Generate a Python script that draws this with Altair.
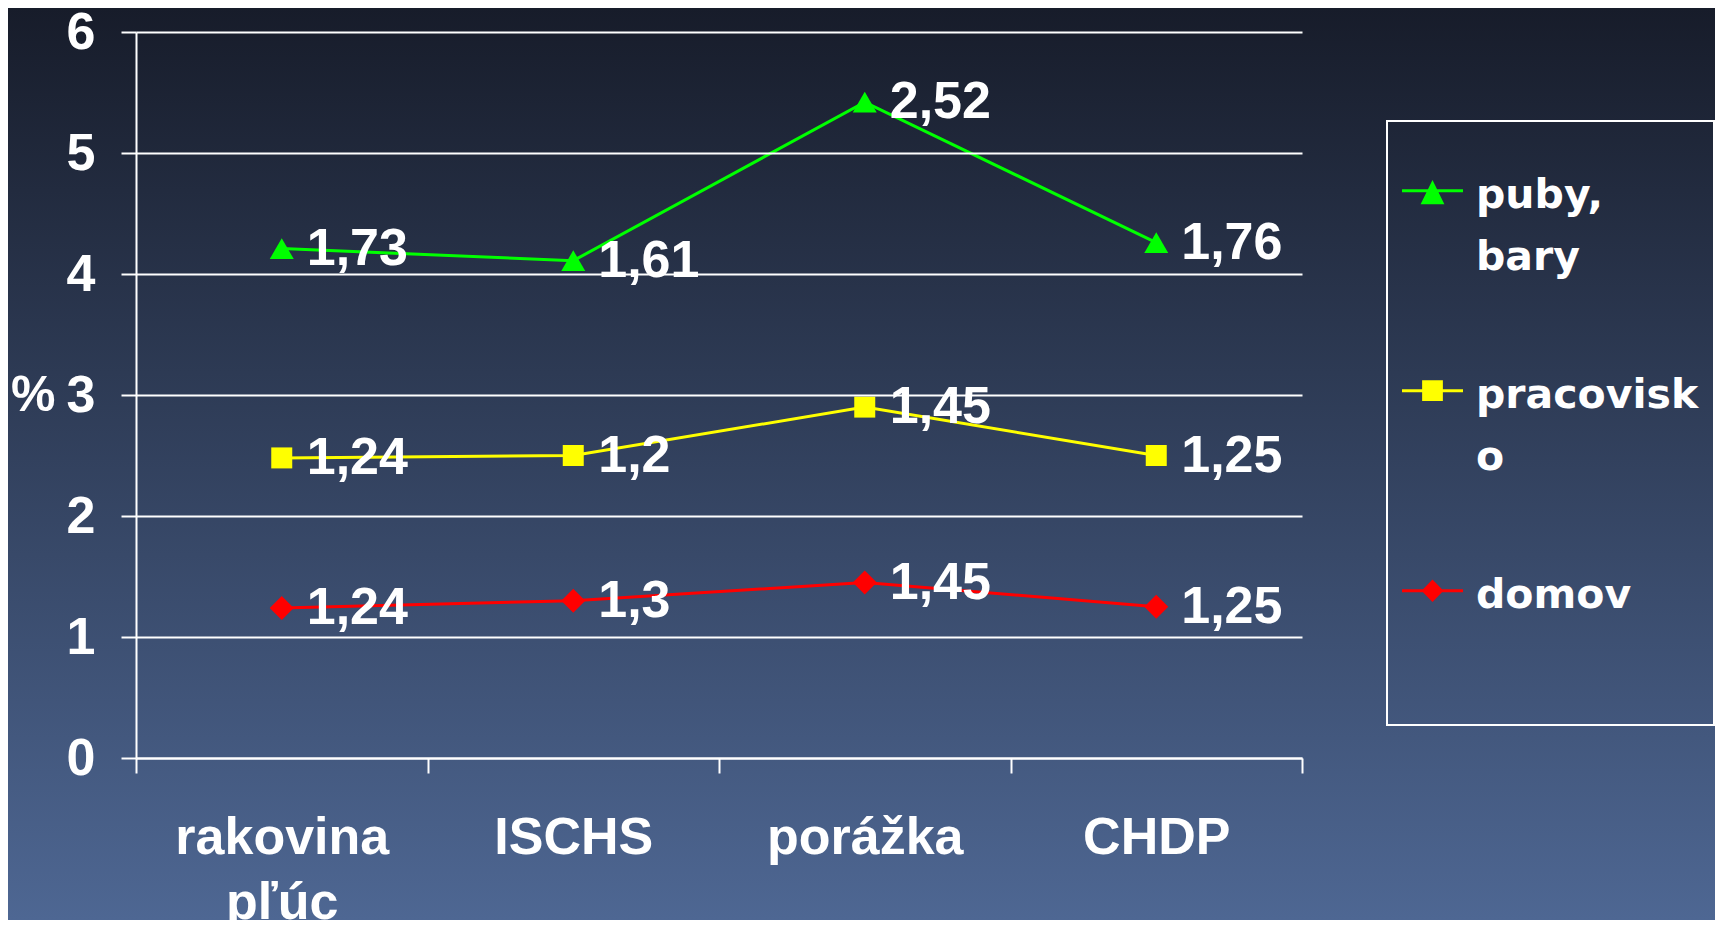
import altair as alt
import pandas as pd

# ---------------- data ----------------
categories = ["rakovina pľúc", "ISCHS", "porážka", "CHDP"]
series_names = ["puby, bary", "pracovisko", "domov"]
domov = [1.24, 1.3, 1.45, 1.25]
pracovisko = [1.24, 1.2, 1.45, 1.25]
puby_bary = [1.73, 1.61, 2.52, 1.76]
series_colors = ["#00ff00", "#ffff00", "#ff0000"]
y_ticks = [0, 1, 2, 3, 4, 5, 6]

stack_order = {"domov": 0, "pracovisko": 1, "puby, bary": 2}
rows = []
for s, vals in [("domov", domov), ("pracovisko", pracovisko), ("puby, bary", puby_bary)]:
    for c, v in zip(categories, vals):
        rows.append({"cat": c, "series": s, "value": v, "order": stack_order[s]})
df = pd.DataFrame(rows)

# ---------------- layout ----------------
W, H = 1166, 726
PAD = {"left": 128, "top": 24, "right": 413, "bottom": 162}
LABEL_FONT = "Liberation Sans"

color_scale = alt.Scale(domain=series_names, range=series_colors)

x_axis = alt.Axis(
    title=None, labelExpr="split(datum.label, ' ')", labelAngle=0, labelLimit=500,
    labelFont=LABEL_FONT, labelFontWeight="bold", labelFontSize=52,
    labelColor="white", labelLineHeight=65, labelPadding=39, labelBaseline="top",
    tickBand="extent", tickSize=15, tickColor="white", tickWidth=2,
    domainColor="white", domainWidth=2, grid=False, zindex=1,
)
y_axis = alt.Axis(
    values=y_ticks, format="d", title="%", titleAngle=0,
    titleFont=LABEL_FONT, titleFontWeight="bold", titleFontSize=50, titleColor="white",
    titleAlign="right", titleBaseline="middle", titleX=-81, titleY=H / 2,
    labelFont=LABEL_FONT, labelFontWeight="bold", labelFontSize=52, labelColor="white",
    labelPadding=26, tickSize=15, tickColor="white", tickWidth=2,
    domainColor="white", domainWidth=2, grid=True, gridColor="white", gridWidth=2,
    zindex=1,
)

x_enc = alt.X("cat:N", sort=categories,
              scale=alt.Scale(type="band", paddingInner=0, paddingOuter=0), axis=x_axis)
y_enc = alt.Y("y1:Q", scale=alt.Scale(domain=[0, 6], nice=False), axis=y_axis)

base = alt.Chart(df).transform_stack(
    stack="value", groupby=["cat"], as_=["y0", "y1"],
    sort=[alt.SortField("order", order="ascending")],
).transform_calculate(label="replace(toString(datum.value), '.', ',')")

# background gradient
bg = alt.Chart(pd.DataFrame({"bg": [0]})).mark_rect(
    color=alt.Gradient(
        gradient="linear",
        stops=[alt.GradientStop(color="#171c2a", offset=0),
               alt.GradientStop(color="#4e6793", offset=1)],
        x1=0, x2=0, y1=0, y2=1,
    )
).encode(
    x=alt.value(-PAD["left"]), x2=alt.value(W + PAD["right"]),
    y=alt.value(-PAD["top"]), y2=alt.value(H + PAD["bottom"]),
)

lines = base.mark_line(strokeWidth=3).encode(
    x=x_enc, y=y_enc,
    stroke=alt.Stroke("series:N", scale=color_scale, legend=None),
)

marker_shapes = {"puby, bary": ("triangle-up", 576), "pracovisko": ("square", 441), "domov": ("diamond", 576)}
point_layers = []
for s in series_names:
    shp, sz = marker_shapes[s]
    point_layers.append(
        base.transform_filter(alt.datum.series == s)
        .mark_point(shape=shp, size=sz, filled=True, opacity=1, strokeWidth=0)
        .encode(x=x_enc, y=y_enc,
                fill=alt.Fill("series:N", scale=color_scale, legend=None))
    )

# legend symbols: line stub + marker (the last one also reserves room below the box's last entry)
legend_paths = [
    "M-1,-0.6H1V-0.5H-1Z M0,-0.9L0.39,-0.11L-0.39,-0.11Z",
    "M-1,-0.6H1V-0.5H-1Z M-0.34,-0.89H0.34V-0.21H-0.34Z",
    "M-1,-0.6H1V-0.5H-1Z M0,-0.92L0.36,-0.55L0,-0.18L-0.36,-0.55Z M0,3.34",
]
legend = alt.Legend(
    title=" ", titleFontSize=26, titlePadding=15,
    orient="none", legendX=1251, legendY=89,
    labelFont="DejaVu Sans", labelFontWeight="bold", labelFontSize=41,
    labelColor="white", labelLimit=400, labelOffset=13, labelBaseline="alphabetic",
    labelExpr="datum.label == 'puby, bary' ? ['puby,', 'bary'] : "
              "datum.label == 'pracovisko' ? ['pracovisk', 'o'] : datum.label",
    symbolSize=3721, symbolStrokeWidth=0, symbolOpacity=1,
)
legend_layer = base.transform_filter("false").mark_point(filled=True).encode(
    x=x_enc, y=y_enc,
    color=alt.Color("series:N", scale=color_scale, legend=legend),
    shape=alt.Shape("series:N", scale=alt.Scale(domain=series_names, range=legend_paths), legend=legend),
)

texts = base.mark_text(
    align="left", baseline="middle", dx=25,
    font=LABEL_FONT, fontWeight="bold", fontSize=52, color="white",
).encode(x=x_enc, y=y_enc, text="label:N")

chart = alt.layer(bg, legend_layer, lines, *point_layers, texts).properties(
    width=W, height=H, padding=PAD, autosize=alt.AutoSizeParams(type="none"),
).configure(
    background="#171c2a",
    style={"guide-label": {"lineHeight": 62}},
).configure_view(
    stroke="white", strokeWidth=2,
).configure_legend(
    padding=15, strokeColor="white", strokeWidth=2, rowPadding=96,
)

chart.save("out.html", embed_options={"renderer": "svg", "actions": False})
